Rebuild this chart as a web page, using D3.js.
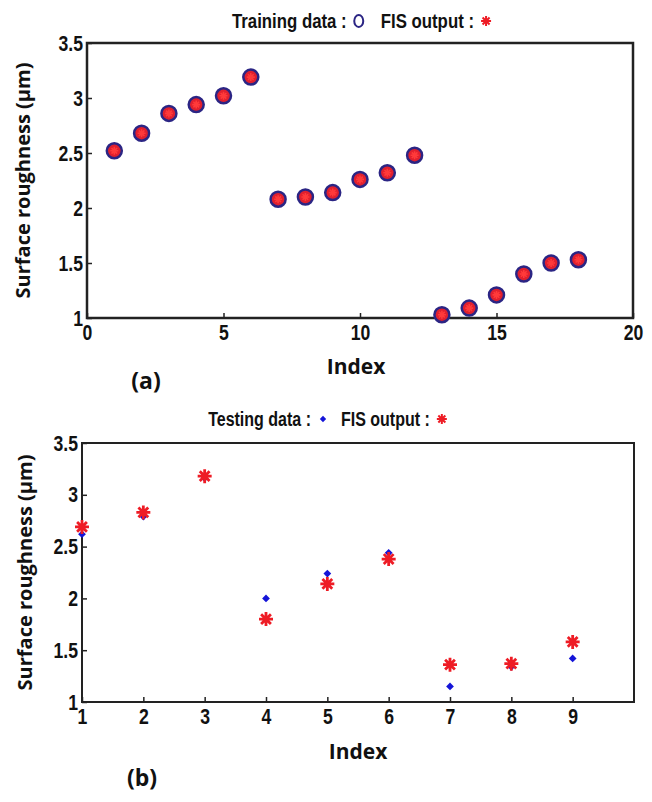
<!DOCTYPE html>
<html>
<head>
<meta charset="utf-8">
<script src="https://cdn.jsdelivr.net/npm/d3@7"></script>
<style>
  body { margin: 0; background: #fff; }
  .tick text { font-family: 'Liberation Sans', Arial, sans-serif; font-weight: bold; font-size: 22px; fill: #111; }
  .tick line { stroke: #222; stroke-width: 1.5; }
  .legend { font-family: 'Liberation Sans', Arial, sans-serif; font-weight: bold; font-size: 20px; fill: #111; }
  .label { font-family: 'Open Sans', Lato, sans-serif; font-weight: 700; fill: #111; }
</style>
</head>
<body>
<svg id="chart" width="652" height="802"></svg>
<script>
// panel (a): training
const trainIndex = [1, 2, 3, 4, 5, 6, 7, 8, 9, 10, 11, 12, 13, 14, 15, 16, 17, 18]
const trainData = [2.52, 2.68, 2.86, 2.94, 3.02, 3.19, 2.08, 2.10, 2.14, 2.26, 2.32, 2.48, 1.03, 1.09, 1.21, 1.40, 1.50, 1.53]
const trainFis = [2.52, 2.68, 2.86, 2.94, 3.02, 3.19, 2.08, 2.10, 2.14, 2.26, 2.32, 2.48, 1.03, 1.09, 1.21, 1.40, 1.50, 1.53]
const xTicksA = [0, 5, 10, 15, 20]

// panel (b): testing
const testIndex = [1, 2, 3, 4, 5, 6, 7, 8, 9]
const testData = [2.62, 2.79, 3.16, 2.00, 2.24, 2.44, 1.15, 1.34, 1.42]
const testFis = [2.69, 2.83, 3.18, 1.80, 2.14, 2.38, 1.36, 1.37, 1.58]
const xTicksB = [1, 2, 3, 4, 5, 6, 7, 8, 9]

const yTicks = [1, 1.5, 2, 2.5, 3, 3.5]

const navy = '#2b2584'
const red = '#ee1c25'
const blue = '#1414d8'
const narrow = 0.8 // no narrow font installed, squeeze Liberation Sans instead

const svg = d3.select('#chart')

// MATLAB style '*' marker: plus + shorter diagonals
const starPath = (r) => {
	const d = r * 0.7
	return `M${-r},0L${r},0M0,${-r}L0,${r}M${-d},${-d}L${d},${d}M${-d},${d}L${d},${-d}`
}

// squeeze tick labels around their own anchor point
const squeeze = (sel) => {
	sel.selectAll('.tick text').each(function () {
		const t = d3.select(this)
		const x = +t.attr('x') || 0
		t.attr('x', x / narrow).attr('transform', `scale(${narrow},1)`)
	})
}

function drawPanel(cfg) {
	const x = d3.scaleLinear().domain(cfg.xDomain).range([cfg.left, cfg.right])
	const y = d3.scaleLinear().domain([1, 3.5]).range([cfg.bottom, cfg.top])
	const g = svg.append('g')

	g.append('g')
		.attr('transform', `translate(${cfg.left},0)`)
		.call(d3.axisLeft(y).tickValues(yTicks).tickFormat((d) => String(d)).tickSizeInner(-5).tickSizeOuter(0).tickPadding(4))
		.call((a) => a.select('.domain').remove())
		.call(squeeze)

	g.append('g')
		.attr('transform', `translate(0,${cfg.bottom})`)
		.call(d3.axisBottom(x).tickValues(cfg.xTicks).tickFormat((d) => String(d)).tickSizeInner(-5).tickSizeOuter(0).tickPadding(6))
		.call((a) => a.select('.domain').remove())
		.call(squeeze)

	g.append('rect')
		.attr('x', cfg.left)
		.attr('y', cfg.top)
		.attr('width', cfg.right - cfg.left)
		.attr('height', cfg.bottom - cfg.top)
		.attr('fill', 'none')
		.attr('stroke', '#222')
		.attr('stroke-width', cfg.boxWidth)

	// axis labels
	g.append('text')
		.attr('class', 'label')
		.attr('transform', `translate(${cfg.yLabelX},${(cfg.top + cfg.bottom) / 2}) rotate(-90)`)
		.attr('text-anchor', 'middle')
		.attr('font-size', 20)
		.text('Surface roughness (μm)')

	g.append('text')
		.attr('class', 'label')
		.attr('x', cfg.indexX)
		.attr('y', cfg.indexY)
		.attr('text-anchor', 'middle')
		.attr('font-size', 21)
		.text('Index')

	g.append('text')
		.attr('class', 'label')
		.attr('x', cfg.tagX)
		.attr('y', cfg.tagY)
		.attr('text-anchor', 'middle')
		.attr('font-size', 23)
		.text(cfg.tag)

	return { g, x, y }
}

function drawLegend(label1, marker1, label2, marker2, cx, baseline, size, gap) {
	const lg = svg.append('g')
	const t1 = lg.append('text').attr('class', 'legend').attr('font-size', size).style('font-size', size + 'px').text(label1)
	const w1 = t1.node().getComputedTextLength() * narrow
	const t2 = lg.append('text').attr('class', 'legend').style('font-size', size + 'px').text(label2)
	const w2 = t2.node().getComputedTextLength() * narrow
	const mw = 12
	const pad = 6
	const total = w1 + pad + mw + gap + w2 + pad + mw
	const x0 = cx - total / 2
	t1.attr('transform', `translate(${x0},${baseline}) scale(${narrow},1)`)
	marker1(lg, x0 + w1 + pad + mw / 2, baseline - 7)
	const x2 = x0 + w1 + pad + mw + gap
	t2.attr('transform', `translate(${x2},${baseline}) scale(${narrow},1)`)
	marker2(lg, x2 + w2 + pad + mw / 2, baseline - 7)
}

// ---- (a)
const a = drawPanel({
	xDomain: [0, 20], xTicks: xTicksA,
	left: 87, right: 633, top: 43, bottom: 318, boxWidth: 2.5,
	yLabelX: 30, indexX: 356, indexY: 374, tagX: 146, tagY: 389, tag: '(a)',
})

a.g.append('g')
	.selectAll('circle')
	.data(trainIndex)
	.join('circle')
	.attr('cx', (d) => a.x(d))
	.attr('cy', (d, i) => a.y(trainData[i]))
	.attr('r', 7.5)
	.attr('fill', '#e0202e')
	.attr('stroke', navy)
	.attr('stroke-width', 2.5)

a.g.append('g')
	.selectAll('path')
	.data(trainIndex)
	.join('path')
	.attr('transform', (d, i) => `translate(${a.x(d)},${a.y(trainFis[i])})`)
	.attr('d', starPath(4))
	.attr('stroke', '#ff3a3a')
	.attr('stroke-width', 1.6)
	.attr('fill', 'none')

drawLegend(
	'Training data :',
	(lg, cx, cy) => lg.append('ellipse').attr('cx', cx).attr('cy', cy).attr('rx', 4.5).attr('ry', 6).attr('fill', 'none').attr('stroke', navy).attr('stroke-width', 2),
	'FIS output :',
	(lg, cx, cy) => lg.append('path').attr('transform', `translate(${cx},${cy})`).attr('d', starPath(5)).attr('stroke', red).attr('stroke-width', 2),
	362, 28, 21, 16
)

// ---- (b)
const b = drawPanel({
	xDomain: [1, 10], xTicks: xTicksB,
	left: 82, right: 634, top: 443, bottom: 702, boxWidth: 2,
	yLabelX: 32, indexX: 358, indexY: 759, tagX: 142, tagY: 786, tag: '(b)',
})

b.g.append('g')
	.selectAll('path')
	.data(testIndex)
	.join('path')
	.attr('transform', (d, i) => `translate(${b.x(d)},${b.y(testData[i])}) rotate(45)`)
	.attr('d', d3.symbol(d3.symbolSquare, 30))
	.attr('fill', blue)

b.g.append('g')
	.selectAll('path')
	.data(testIndex)
	.join('path')
	.attr('transform', (d, i) => `translate(${b.x(d)},${b.y(testFis[i])})`)
	.attr('d', starPath(7))
	.attr('stroke', red)
	.attr('stroke-width', 2.8)
	.attr('fill', 'none')

drawLegend(
	'Testing data :',
	(lg, cx, cy) => lg.append('path').attr('transform', `translate(${cx},${cy}) rotate(45)`).attr('d', d3.symbol(d3.symbolSquare, 20)).attr('fill', blue),
	'FIS output :',
	(lg, cx, cy) => lg.append('path').attr('transform', `translate(${cx},${cy})`).attr('d', starPath(5)).attr('stroke', red).attr('stroke-width', 2),
	328, 426, 20, 12
)
</script>
</body>
</html>
